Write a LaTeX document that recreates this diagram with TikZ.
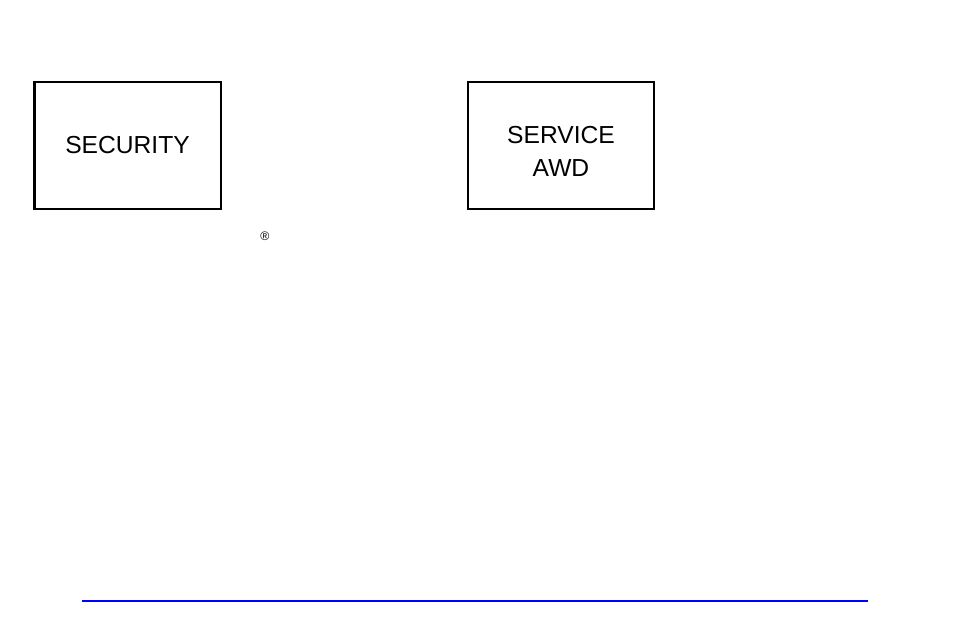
\documentclass[tikz,border=0pt]{standalone}
\usepackage{fontspec}
\setmainfont{Liberation Sans}
\begin{document}
\begin{tikzpicture}[x=0.01cm, y=-0.01cm,
    lamp/.style={draw, line width=0.6pt, minimum width=1.86cm, minimum height=1.27cm,
      align=center, font=\fontsize{7pt}{9.4pt}\selectfont, inner sep=0pt}]
  \useasboundingbox (0,0) rectangle (954,636);
  \node[lamp] (security) at (127.5,145.5) {SECURITY};
  \node[lamp] (service) at (561,145.5) {};
  \node[align=center, font=\fontsize{7pt}{9.4pt}\selectfont, inner sep=0pt]
    (servicetext) at (561,151.5) {SERVICE\\AWD};
  \node[font=\fontsize{3.5pt}{4pt}\selectfont] (reg) at (265,236) {\textregistered};
  \coordinate (rulestart) at (82,601);
  \coordinate (ruleend) at (868,601);
  \draw[blue, line width=0.7pt] (rulestart) -- (ruleend);
\end{tikzpicture}
\end{document}
